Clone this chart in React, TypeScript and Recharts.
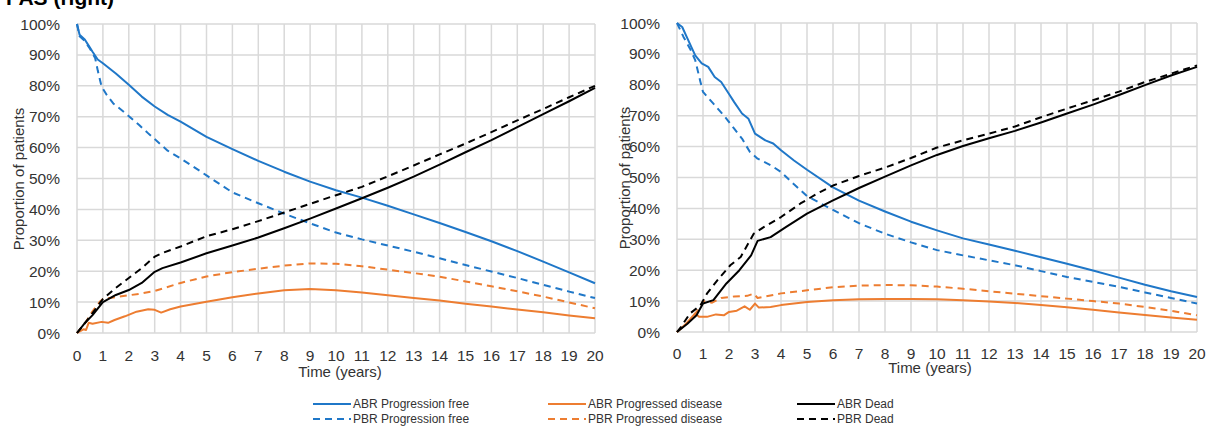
import React from 'react';
import { LineChart, Line, XAxis, YAxis, CartesianGrid } from 'recharts';

const FONT = '"Liberation Sans", Arial, sans-serif';
const TEXT = '#333333';
const BLUE = '#1f77c8';
const ORANGE = '#ED7D31';
const BLACK = '#000000';
const DASH = '7 5';

const yearTicks = [0, 1, 2, 3, 4, 5, 6, 7, 8, 9, 10, 11, 12, 13, 14, 15, 16, 17, 18, 19, 20];
const pctTicks = [0, 10, 20, 30, 40, 50, 60, 70, 80, 90, 100];

// ---- Left panel ----
const abrPfLT = [0, 0.1, 0.3, 0.45, 0.6, 0.8, 1, 1.5, 2, 2.5, 3, 3.5, 4, 5, 6, 7, 8, 9, 10, 11, 12, 13, 14, 15, 16, 17, 18, 19, 20];
const abrPfL = [100, 96.5, 95, 93, 91, 88.5, 87.3, 84, 80.3, 76.5, 73.3, 70.6, 68.4, 63.5, 59.5, 55.7, 52.2, 49, 46.2, 43.8, 41.2, 38.4, 35.6, 32.7, 29.7, 26.5, 23.1, 19.6, 16.1];

const pbrPfLT = [0, 0.1, 0.3, 0.5, 0.7, 0.8, 0.95, 1.15, 1.4, 1.8, 2.4, 2.75, 3.5, 4, 4.5, 5, 6, 7, 8, 9, 10, 11, 12, 13, 14, 15, 16, 17, 18, 19, 20];
const pbrPfL = [100, 96, 94.5, 92, 89, 85, 79.7, 77, 74.3, 71.6, 67.3, 64.6, 59, 56.5, 53.8, 51, 45.5, 42, 38.6, 35.5, 32.5, 30.3, 28.3, 26.3, 24.2, 22, 19.9, 17.8, 15.6, 13.4, 11.3];

const abrPdLT = [0, 0.25, 0.35, 0.45, 0.6, 0.95, 1.2, 1.45, 1.85, 2.3, 2.75, 3, 3.25, 3.6, 4, 5, 6, 7, 8, 9, 10, 11, 12, 13, 14, 15, 16, 17, 18, 19, 20];
const abrPdL = [0, 1.2, 1, 3.3, 3, 3.6, 3.3, 4.2, 5.4, 6.9, 7.7, 7.5, 6.6, 7.7, 8.6, 10.1, 11.6, 12.8, 13.8, 14.2, 13.8, 13.1, 12.2, 11.3, 10.5, 9.5, 8.6, 7.6, 6.7, 5.7, 4.8];

const pbrPdLT = [0, 0.3, 0.6, 0.9, 1, 1.5, 2, 2.5, 3, 4, 5, 6, 7, 8, 9, 10, 11, 12, 13, 14, 15, 16, 17, 18, 19, 20];
const pbrPdL = [0, 3, 7, 10.3, 11, 11.6, 12.2, 12.8, 13.6, 16.2, 18.3, 19.7, 20.8, 21.8, 22.5, 22.4, 21.6, 20.5, 19.4, 18.2, 16.7, 15.1, 13.5, 11.8, 9.9, 8];

const abrDeadLT = [0, 0.3, 0.6, 1, 1.5, 2, 2.5, 3, 3.3, 4, 5, 6, 7, 8, 9, 10, 11, 12, 13, 14, 15, 16, 17, 18, 19, 20];
const abrDeadL = [0, 3.2, 5.8, 10, 12.3, 13.9, 16.2, 19.8, 21, 22.8, 25.8, 28.3, 30.9, 33.9, 37, 40.3, 43.6, 47, 50.6, 54.5, 58.5, 62.4, 66.6, 70.8, 75, 79.3];

const pbrDeadLT = [0, 0.5, 1, 1.5, 2, 2.5, 3, 3.3, 4, 5, 6, 7, 8, 9, 10, 11, 12, 13, 14, 15, 16, 17, 18, 19, 20];
const pbrDeadL = [0, 5.3, 11, 14.6, 17.8, 21, 24.7, 25.9, 28, 31.3, 33.6, 36.2, 39, 41.8, 44.6, 47.3, 50.7, 54.2, 57.8, 61.3, 65, 68.8, 72.5, 76.3, 80];

// ---- Right panel ----
const abrPfRT = [0, 0.2, 0.4, 0.7, 0.95, 1.2, 1.45, 1.7, 2, 2.2, 2.5, 2.75, 3, 3.4, 3.7, 4, 4.5, 5, 6, 7, 8, 9, 10, 11, 12, 13, 14, 15, 16, 17, 18, 19, 20];
const abrPfR = [100, 98.7, 95, 89.5, 86.9, 85.8, 82.5, 80.9, 77, 74.4, 70.7, 69, 64.2, 62, 61, 58.8, 55.5, 52.5, 46.8, 42.5, 39, 35.7, 32.9, 30.3, 28.3, 26.3, 24.2, 22.1, 19.9, 17.6, 15.3, 13.2, 11.3];

const pbrPfRT = [0, 0.25, 0.5, 0.7, 0.9, 1, 1.4, 1.8, 2.2, 2.5, 2.8, 3.1, 3.6, 4, 4.5, 5, 6, 7, 8, 9, 10, 11, 12, 13, 14, 15, 16, 17, 18, 19, 20];
const pbrPfR = [100, 95.5, 91.7, 88, 81, 77.7, 73.9, 70.1, 65.8, 62.6, 58.3, 56.1, 54, 51.8, 47.8, 44, 39.5, 35.2, 31.8, 29, 26.5, 24.8, 23.2, 21.6, 19.7, 17.8, 16.2, 14.6, 12.8, 11, 9.2];

const abrPdRT = [0, 0.35, 0.7, 0.85, 1.15, 1.5, 1.8, 2, 2.3, 2.6, 2.8, 3, 3.15, 3.6, 4, 5, 6, 7, 8, 9, 10, 11, 12, 13, 14, 15, 16, 17, 18, 19, 20];
const abrPdR = [0, 2.7, 6, 4.9, 4.9, 5.7, 5.4, 6.5, 6.9, 8.3, 7.2, 9.2, 7.9, 8.1, 8.7, 9.7, 10.3, 10.6, 10.7, 10.7, 10.6, 10.3, 9.9, 9.4, 8.7, 8, 7.2, 6.3, 5.5, 4.7, 4];

const pbrPdRT = [0, 0.2, 0.5, 0.9, 1, 1.35, 1.7, 2.2, 2.7, 2.95, 3.1, 3.7, 4, 5, 6, 7, 8, 9, 10, 11, 12, 13, 14, 15, 16, 17, 18, 19, 20];
const pbrPdR = [0, 1.6, 3.8, 8.1, 10, 9.5, 11, 11.5, 11.7, 12.4, 11, 12, 12.5, 13.5, 14.5, 15, 15.2, 15.1, 14.7, 14, 13.2, 12.4, 11.6, 10.8, 10, 9.2, 8.1, 6.9, 5.4];

const abrDeadRT = [0, 0.4, 0.75, 1, 1.4, 1.9, 2.4, 2.85, 3.1, 3.6, 4.2, 5, 6, 7, 8, 9, 10, 11, 12, 13, 14, 15, 16, 17, 18, 19, 20];
const abrDeadR = [0, 2.7, 5.4, 9.2, 10.3, 15.7, 20, 24.8, 29.5, 30.7, 34, 38.3, 42.6, 46.6, 50.3, 53.9, 57.3, 60.2, 62.7, 65.1, 67.8, 70.7, 73.6, 76.7, 79.9, 83, 85.8];

const pbrDeadRT = [0, 0.15, 0.5, 0.9, 1.15, 1.55, 2.05, 2.45, 2.95, 3.35, 4, 4.75, 5.5, 6, 7, 8, 9, 10, 11, 12, 13, 14, 15, 16, 17, 18, 19, 20];
const pbrDeadR = [0, 1.6, 6, 8.6, 12.4, 16.7, 21.6, 24.3, 31.8, 34, 37.2, 41.6, 45.3, 47.4, 50.5, 53.2, 56.3, 59.7, 62, 64.2, 66.5, 69.5, 72.3, 75, 77.8, 80.9, 83.6, 86.3];

// Legend entries, in column order (each column: ABR row then PBR row)
const legendNames = [
  ['ABR Progression free', 'PBR Progression free'],
  ['ABR Progressed disease', 'PBR Progressed disease'],
  ['ABR Dead', 'PBR Dead'],
];
const legendColors = [BLUE, ORANGE, BLACK];

type Series = { name: string; t: number[]; v: number[]; color: string; dashed: boolean };

const leftSeries: Series[] = [
  { name: 'ABR Progression free', t: abrPfLT, v: abrPfL, color: BLUE, dashed: false },
  { name: 'PBR Progression free', t: pbrPfLT, v: pbrPfL, color: BLUE, dashed: true },
  { name: 'ABR Progressed disease', t: abrPdLT, v: abrPdL, color: ORANGE, dashed: false },
  { name: 'PBR Progressed disease', t: pbrPdLT, v: pbrPdL, color: ORANGE, dashed: true },
  { name: 'ABR Dead', t: abrDeadLT, v: abrDeadL, color: BLACK, dashed: false },
  { name: 'PBR Dead', t: pbrDeadLT, v: pbrDeadL, color: BLACK, dashed: true },
];

const rightSeries: Series[] = [
  { name: 'ABR Progression free', t: abrPfRT, v: abrPfR, color: BLUE, dashed: false },
  { name: 'PBR Progression free', t: pbrPfRT, v: pbrPfR, color: BLUE, dashed: true },
  { name: 'ABR Progressed disease', t: abrPdRT, v: abrPdR, color: ORANGE, dashed: false },
  { name: 'PBR Progressed disease', t: pbrPdRT, v: pbrPdR, color: ORANGE, dashed: true },
  { name: 'ABR Dead', t: abrDeadRT, v: abrDeadR, color: BLACK, dashed: false },
  { name: 'PBR Dead', t: pbrDeadRT, v: pbrDeadR, color: BLACK, dashed: true },
];

const toPoints = (t: number[], v: number[]) => t.map((x, i) => ({ t: x, v: v[i] }));

// Tick labels drawn with fixed offsets from the plot frame (plot left edge sits at x = 77 in each chart)
const makeXTick = (labelY: number) => (props: any) => (
  <text x={props.x} y={labelY} textAnchor="middle" dominantBaseline="central" fontFamily={FONT} fontSize={15.5} fill={TEXT}>
    {props.payload.value}
  </text>
);

const YTick = (props: any) => (
  <text x={60} y={props.y} textAnchor="end" dominantBaseline="central" fontFamily={FONT} fontSize={15.5} fill={TEXT}>
    {`${props.payload.value}%`}
  </text>
);

function Panel({ series, width, height, margin, tickY }: { series: Series[]; width: number; height: number; margin: { top: number; right: number; bottom: number; left: number }; tickY: number }) {
  return (
    <LineChart width={width} height={height} margin={margin}>
      <CartesianGrid stroke="#d9d9d9" strokeWidth={1.5} />
      <XAxis
        type="number"
        dataKey="t"
        domain={[0, 20]}
        ticks={yearTicks}
        interval={0}
        axisLine={false}
        tickLine={false}
        height={30}
        tick={makeXTick(tickY)}
      />
      <YAxis
        type="number"
        domain={[0, 100]}
        ticks={pctTicks}
        interval={0}
        axisLine={false}
        tickLine={false}
        width={77}
        tick={YTick}
      />
      {series.map((s) => (
        <Line
          key={s.name}
          data={toPoints(s.t, s.v)}
          dataKey="v"
          name={s.name}
          type="linear"
          stroke={s.color}
          strokeWidth={2}
          strokeDasharray={s.dashed ? DASH : undefined}
          strokeLinejoin="round"
          dot={false}
          activeDot={false}
          isAnimationActive={false}
        />
      ))}
    </LineChart>
  );
}

function Overlay() {
  const legendX = [313, 548, 797];
  const legendY = [404, 419];
  return (
    <svg width={1208} height={427} style={{ position: 'absolute', left: 0, top: 0, pointerEvents: 'none' }}>
      <text x={6} y={5} fontFamily={FONT} fontSize={21} fontWeight="bold" fill="#000">PAS (right)</text>

      <text x={18} y={179} transform="rotate(-90 18 179)" textAnchor="middle" dominantBaseline="central" fontFamily={FONT} fontSize={15} fill={TEXT}>Proportion of patients</text>
      <text x={624} y={178} transform="rotate(-90 624 178)" textAnchor="middle" dominantBaseline="central" fontFamily={FONT} fontSize={15} fill={TEXT}>Proportion of patients</text>

      <text x={340} y={377} textAnchor="middle" fontFamily={FONT} fontSize={15} fill={TEXT}>Time (years)</text>
      <text x={930} y={373} textAnchor="middle" fontFamily={FONT} fontSize={15} fill={TEXT}>Time (years)</text>

      {legendNames.map((pair, c) =>
        pair.map((label, r) => (
          <g key={label}>
            <line
              x1={legendX[c]}
              x2={legendX[c] + 38}
              y1={legendY[r]}
              y2={legendY[r]}
              stroke={legendColors[c]}
              strokeWidth={2}
              strokeDasharray={r === 1 ? DASH : undefined}
            />
            <text x={legendX[c] + 40} y={legendY[r]} dominantBaseline="central" fontFamily={FONT} fontSize={12} fill={TEXT}>{label}</text>
          </g>
        ))
      )}
    </svg>
  );
}

export default function App() {
  return (
    <div style={{ position: 'absolute', left: 0, top: 0, width: 1208, height: 427, background: '#fff', overflow: 'hidden' }}>
      <Overlay />
      <div style={{ position: 'absolute', left: 0, top: 0 }}>
        <Panel series={leftSeries} width={615} height={390} margin={{ top: 24, right: 20, bottom: 27, left: 0 }} tickY={355} />
      </div>
      <div style={{ position: 'absolute', left: 600, top: 0 }}>
        <Panel series={rightSeries} width={608} height={390} margin={{ top: 23, right: 11, bottom: 28, left: 0 }} tickY={353} />
      </div>
    </div>
  );
}
